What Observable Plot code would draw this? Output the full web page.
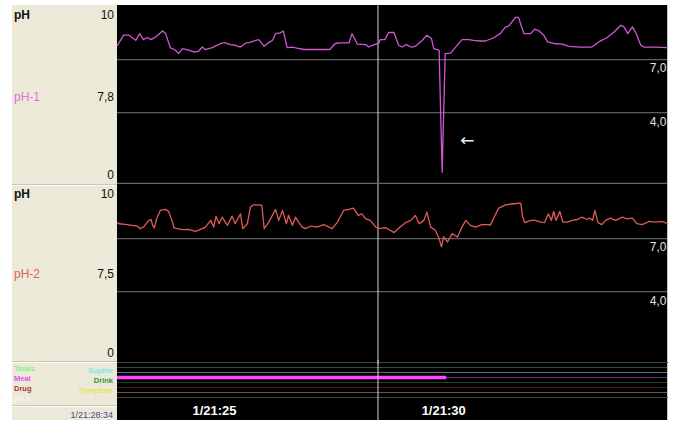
<!DOCTYPE html>
<html><head><meta charset="utf-8">
<script src="https://cdn.jsdelivr.net/npm/d3@7"></script>
<script src="https://cdn.jsdelivr.net/npm/@observablehq/plot@0.6"></script>
<style>
body{margin:0;background:#fff;}
#root{position:relative;width:675px;height:425px;overflow:hidden;font-family:"Liberation Sans",Arial,Helvetica,sans-serif;}
#left{position:absolute;left:12px;top:5px;width:105px;height:415px;background:#ECE9D8;}
#black{position:absolute;left:117px;top:5px;width:550px;height:415px;background:#000;border-right:1px solid #c8c8c8;}
.sep{position:absolute;left:12px;width:105px;height:1px;background:#c9c6b6;border-bottom:1px solid #fbfaf4;}
.lb{position:absolute;white-space:nowrap;line-height:1;transform:translateY(-50%);}
.pl{position:absolute;left:0;}
</style></head>
<body><div id="root"><div id="left"></div><div id="black"></div></div>
<script>
// ---------- data ----------
const startClock = "21:22:53";      // left edge of the time window
const windowSeconds = 720;          // 12 minute window
// pH-1 : seconds after start, pH
const sec1 = [0,8,15,24,29,34,39,44,50,59,63,69,76,80,85,93,100,106,111,115,124,137,141,148,154,161,168,172,178,185,192,198,203,207,213,217,222,229,235,244,253,266,278,285,292,303,307,314,325,329,336,342,344,350,355,362,368,373,378,384,390,399,405,411,414,419,421,425,429,436,451,460,466,475,482,493,501,508,512,521,525,532,541,546,552,558,563,571,582,591,606,621,630,641,650,659,663,668,674,679,685,689,702,720];
const ph1 = [7.81,8.38,8.38,8.09,8.47,8.13,8.25,8.13,8.28,8.62,8.47,7.68,7.53,7.34,7.62,7.53,7.43,7.47,7.71,7.57,7.68,7.94,7.94,7.85,7.81,7.71,7.94,7.96,8.05,8.13,7.75,7.96,8.09,8.47,8.51,8.62,7.68,7.71,7.65,7.57,7.57,7.57,7.57,7.91,7.94,7.94,8.47,7.87,7.85,7.71,7.85,7.91,8.13,8.13,8.53,8.53,7.81,7.71,7.85,7.71,7.75,8.09,8.38,8.19,7.62,7.57,7.53,0.64,7.34,7.37,8.13,8.13,8.09,8.05,8.05,8.25,8.47,8.85,8.89,9.38,9.38,8.47,8.47,8.72,8.62,8.38,8.0,7.91,7.87,7.75,7.71,7.71,8.0,8.25,8.56,8.94,8.85,8.47,8.85,8.47,7.81,7.71,7.71,7.68];
// pH-2 : seconds after start, pH
const sec2 = [0,2,10,19,26,29,34,41,44,46,48,52,56,63,67,72,74,78,85,93,102,111,115,122,126,129,133,137,144,150,154,161,164,170,174,178,185,189,192,198,207,211,216,221,224,229,233,237,242,246,253,261,270,281,288,296,303,309,315,320,325,331,338,342,351,357,362,370,377,384,390,395,401,405,410,416,421,424,427,432,438,445,451,456,462,469,477,486,488,493,499,508,519,528,530,533,541,547,554,559,564,568,571,574,579,583,589,595,602,608,615,618,622,625,629,634,639,645,652,661,667,674,680,687,696,704,713,720];
const ph2 = [7.90,7.84,7.80,7.75,7.71,7.56,7.65,8.03,8.08,7.75,7.60,8.21,8.59,8.65,8.53,7.93,7.60,7.56,7.51,7.52,7.41,7.56,7.65,8.03,7.65,8.27,7.84,8.21,7.75,8.27,7.84,8.40,7.56,7.84,8.78,8.91,8.91,8.87,7.56,7.93,8.65,8.03,8.59,7.84,8.31,7.75,8.21,7.93,7.65,7.56,7.71,7.65,7.79,7.56,7.93,8.59,8.65,8.72,8.31,8.40,8.12,8.03,7.65,7.56,7.62,7.47,7.34,7.65,7.90,8.03,8.31,7.84,8.03,8.49,7.65,7.47,7.0,6.53,7.09,6.81,7.28,7.09,7.65,8.03,7.75,7.65,7.79,7.79,7.75,8.21,8.72,8.91,8.97,9.0,8.31,7.90,8.03,8.03,7.93,7.90,8.40,8.03,8.53,8.03,8.53,7.93,7.93,8.03,8.08,8.21,8.08,8.16,8.03,8.59,7.90,7.79,8.03,8.16,8.03,8.21,8.12,8.16,7.84,7.79,7.97,7.93,7.97,7.84];
const gridValues = [7, 4];
const gridLabels = ["7,0", "4,0"];
const yDomain = [0, 10];
const cursorClock = "21:28:34";
const cursorLabel = "1/21:28:34";
const channelNames = ["pH-1", "pH-2"];
const readouts = ["7,8", "7,5"];
const tickClocks = ["21:25:00", "21:30:00"];
const eventLanes = ["Tasks", "Supine", "Meal", "Drink", "Drug", "Symptom"];
const eventLabelColors = ["#86f086", "#7fe6ea", "#e455e4", "#2f9a2f", "#a33a2a", "#e6e65a"];
const laneColors = ["#2a4d3e", "#437373", "#6e2a6e", "#214221", "#4d191b", "#5a5a42"];
const mealEvents = [{lane: "Meal", start: "21:22:53", end: "21:30:04"}];
const annotations = [{sec: 458, ph: 2.43, text: "\u2190"}];

// ---------- helpers ----------
const parseT = d3.timeParse("%H:%M:%S");
const t0 = parseT(startClock);
const at = s => new Date(+t0 + s * 1000);
const series1 = sec1.map((s, i) => ({t: at(s), ph: ph1[i]}));
const series2 = sec2.map((s, i) => ({t: at(s), ph: ph2[i]}));
const cursor = parseT(cursorClock);
const ticks = tickClocks.map(parseT);
const FONT = "Liberation Sans, Arial, Helvetica, sans-serif";
const root = document.getElementById("root");
const xDom = [t0, at(windowSeconds)];

function place(svg, top) { svg.classList.add("pl"); svg.style.top = top + "px"; root.appendChild(svg); }

function phPanel(data, color, height, mt, mb, extra) {
  return Plot.plot({
    width: 675, height, marginLeft: 117, marginRight: 8, marginTop: mt, marginBottom: mb,
    x: {type: "time", domain: xDom, axis: null},
    y: {domain: yDomain, axis: null},
    style: {background: "transparent", fontFamily: FONT},
    marks: [
      Plot.ruleY(gridValues, {stroke: "#5f5f5f", strokeWidth: 1.3}),
      Plot.text(gridValues, {y: d => d, frameAnchor: "right", text: (d, i) => gridLabels[i], textAnchor: "end", dx: -1, dy: 9, fill: "#e2e2e2", fontSize: 12}),
      Plot.ruleX([cursor], {stroke: "#d8d8d8", strokeWidth: 1, insetTop: -2, insetBottom: -2}),
      Plot.line(data, {x: "t", y: "ph", stroke: color, strokeWidth: 1.3}),
      ...extra
    ]
  });
}

const p1 = phPanel(series1, "#cf58cf", 184, 6, 1, [
  Plot.ruleY([0], {stroke: "#666", strokeWidth: 1.3}),
  Plot.text(annotations, {x: d => at(d.sec), y: "ph", text: "text", fill: "#eeeeee", fontSize: 17, fontFamily: "DejaVu Sans"})
]);
place(p1, 0);
const p2 = phPanel(series2, "#e05b55", 180, 1, 2, []);
place(p2, 184);

const p3 = Plot.plot({
  width: 675, height: 62, marginLeft: 117, marginRight: 8, marginTop: 4, marginBottom: 23,
  x: {type: "time", domain: xDom, ticks: ticks, tickFormat: d => "1/" + d3.timeFormat("%H:%M")(d), tickSize: 0, tickPadding: 8, label: null},
  y: {type: "point", domain: eventLanes, padding: 1, axis: null},
  color: {type: "identity"},
  style: {background: "transparent", fontFamily: FONT, fontSize: "13px", fontWeight: "bold", color: "white"},
  marks: [
    Plot.frame({anchor: "top", stroke: "#444"}),
    Plot.frame({anchor: "bottom", stroke: "#444"}),
    Plot.ruleY(eventLanes, {y: d => d, stroke: (d, i) => laneColors[i], strokeWidth: 1.2}),
    Plot.ruleY(mealEvents, {y: "lane", x1: d => parseT(d.start), x2: d => parseT(d.end), stroke: "#ff45ff", strokeWidth: 3.5}),
    Plot.ruleX([cursor], {stroke: "#d8d8d8", strokeWidth: 1, insetTop: -2, insetBottom: -23})
  ]
});
place(p3, 358);

// ---------- left label panel ----------
function lb(text, x, y, opts = {}) {
  const d = document.createElement("div");
  d.className = "lb"; d.textContent = text;
  if (opts.right) d.style.right = (675 - x) + "px"; else d.style.left = x + "px";
  d.style.top = y + "px";
  d.style.fontSize = (opts.size || 12) + "px";
  d.style.color = opts.color || "#111";
  if (opts.bold) d.style.fontWeight = "bold";
  root.appendChild(d);
}
function sep(y) { const s = document.createElement("div"); s.className = "sep"; s.style.top = y + "px"; root.appendChild(s); }
sep(184); sep(361); sep(405);
const panels = [{top: 15, mid: 97, bot: 175}, {top: 194, mid: 274, bot: 353}];
const nameColors = ["#e36fe3", "#e8605a"];
panels.forEach((p, i) => {
  lb("pH", 14, p.top, {bold: true});
  lb(String(yDomain[1]), 114, p.top, {right: true});
  lb(channelNames[i], 14, p.mid, {color: nameColors[i]});
  lb(readouts[i], 114, p.mid, {right: true});
  lb(String(yDomain[0]), 114, p.bot, {right: true});
});
eventLanes.forEach((name, i) => {
  const row = Math.floor(i / 2);
  if (i % 2 === 0) lb(name, 14, 369 + row * 10, {size: 7.5, bold: true, color: eventLabelColors[i]});
  else lb(name, 113, 371 + row * 10, {size: 7.5, bold: true, color: eventLabelColors[i], right: true});
});
lb("pH 1", 14, 399, {size: 7.5, bold: true, color: "#f7f6f0"});
lb(cursorLabel, 113, 415, {right: true, size: 9, color: "#4a4a8a"});
</script></body></html>
